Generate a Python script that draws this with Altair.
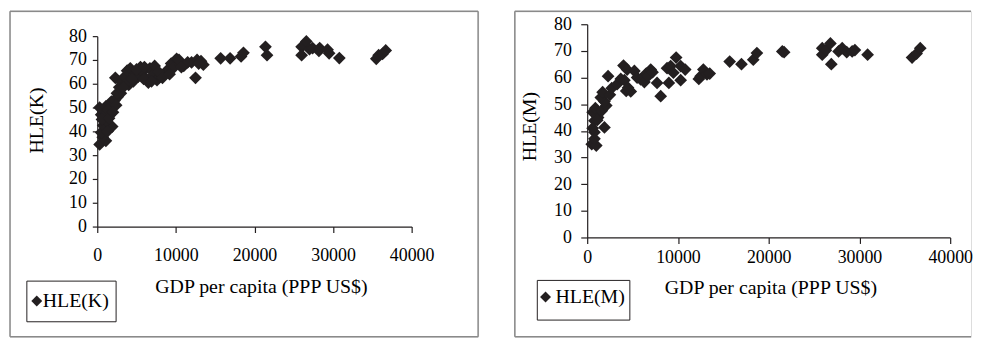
import altair as alt
import pandas as pd

FONT = "Liberation Serif"
INK = "#231f20"

# ---- Left panel data: HLE(K) vs GDP per capita ----
gdp_k = [300, 1100, 700, 500, 750, 1900, 1200, 500, 900, 300, 1100, 1600, 1800, 2200,
         2600, 3000, 1400, 2400, 600, 1500, 2000, 2500, 1300,
         2300, 2800, 3100, 3500, 3800, 4200, 4600, 4800, 5200, 5500, 5800, 6200, 6500,
         6700, 7000, 7300, 7600, 8000, 8600, 9000, 9400, 9800, 10100, 10500, 11000,
         12000, 12500, 12700, 13200, 13500, 4000, 3600,
         3300, 4400, 5000, 5900, 6000, 6900, 7800, 8300, 9200, 10400, 11500, 12900, 10700,
         15700, 16900, 18300, 18600, 21400, 21600, 26000, 26000, 26600, 27000, 27400,
         28200, 28300, 29300, 29500, 30800, 35500, 35800, 36300, 36700]
hle_k = [34.5, 36, 37.5, 39.5, 42.5, 42, 44.5, 47, 48.5, 50, 50.5, 51.5, 52.5, 53,
         54.5, 56, 49, 51, 45, 45.5, 48, 56, 40,
         62.5, 58.5, 60.5, 63, 65.5, 66.5, 61, 64, 63, 67, 65, 62, 60.5,
         66.5, 63.5, 67.5, 61.5, 63, 64.5, 66, 68.5, 67, 70.5, 68.5, 67.5,
         69, 62.5, 70, 69.5, 68, 59.5, 60,
         58.5, 62, 66, 62, 67, 61, 65, 62.5, 64, 70, 69, 68.5, 67,
         70.7, 70.7, 71.5, 73, 75.5, 72, 75.5, 72, 77.8, 74.5, 75,
         73.8, 75, 74.3, 72.8, 70.8, 70.5, 72, 72.5, 74]

# ---- Right panel data: HLE(M) vs GDP per capita ----
gdp_m = [500, 1000, 800, 800, 600, 1900, 800, 1200, 600, 900, 1600, 2100, 1900, 1500,
         1700, 2500, 2300, 2700, 1100,
         3300, 3700, 4000, 4400, 4100, 4300, 4800, 4500, 5200, 5500, 5900, 6300, 6500,
         6700, 7000, 7200, 7700, 8100, 8800, 9000, 9200, 9500, 9800, 10300, 10300,
         10800, 12300, 12500, 12800, 13200, 13500,
         15700, 17000, 18300, 18700, 21500, 21700, 25900, 25900, 26300, 26800, 26900,
         27700, 28100, 28600, 29200, 29500, 30900, 35800, 36300, 36700]
hle_m = [35, 34.5, 37, 39.5, 41, 41.3, 43.8, 45, 47, 48.5, 47.5, 49.5, 51, 52.5,
         54.5, 53.5, 60.5, 56, 44,
         57.5, 59.5, 64.5, 63, 59, 55, 54.8, 56.2, 62.5, 60, 59.3, 58.3, 61.5,
         60.5, 63, 62, 58, 53, 63.5, 58, 64.3, 61.8, 67.5, 64.3, 59,
         63, 59.5, 60.5, 63, 61.2, 61.5,
         66, 65, 66.7, 69.2, 69.8, 69.5, 71, 68.6, 70.2, 72.8, 65,
         69.8, 71, 69.5, 69.8, 70.3, 68.6, 67.5, 69, 71]

x_ticks = [0, 10000, 20000, 30000, 40000]
y_ticks = [0, 10, 20, 30, 40, 50, 60, 70, 80]

one = pd.DataFrame({"k": [0]})


def rule(x, x2, y, y2, color="#8a8a8a", width=1.5):
    return alt.Chart(one).mark_rule(color=color, strokeWidth=width).encode(
        x=alt.value(x), x2=alt.value(x2), y=alt.value(y), y2=alt.value(y2))


def axis_style():
    return dict(labelFont=FONT, labelFontSize=18, labelColor="black",
                titleFont=FONT, titleFontSize=20, titleFontWeight="normal",
                titleColor="black", domainColor=INK, domainWidth=1.2,
                tickColor=INK, tickWidth=1.2, grid=False,
                labelFlush=False, labelOverlap=False)


def panel(gdp, hle, name, W, H, xr, yr, xoff, yoff, xtick, ytick, xlp, ylp,
          xtx, xty, ytx, yty, lx, ly, loff, box, borders):
    df = pd.DataFrame({"gdp": gdp, "hle": hle, "series": name})
    pts = alt.Chart(df).mark_point(shape="diamond", filled=True, size=165,
                                   opacity=1, strokeWidth=0).encode(
        x=alt.X("gdp:Q",
                scale=alt.Scale(domain=[0, 40000], range=xr, nice=False),
                axis=alt.Axis(values=x_ticks, format="d", offset=xoff,
                              tickSize=xtick, labelPadding=xlp,
                              title="GDP per capita (PPP US$)", titleX=xtx, titleY=xty,
                              titleAlign="center", titleBaseline="alphabetic",
                              **axis_style())),
        y=alt.Y("hle:Q",
                scale=alt.Scale(domain=[0, 80], range=yr, nice=False),
                axis=alt.Axis(values=y_ticks, offset=yoff,
                              tickSize=ytick, labelPadding=ylp,
                              title=name, titleX=ytx, titleY=yty,
                              titleAngle=270, titleAlign="center",
                              titleBaseline="middle", **axis_style())),
        color=alt.Color("series:N", scale=alt.Scale(range=[INK]),
                        legend=alt.Legend(orient="none", legendX=lx, legendY=ly,
                                          title=None, symbolType="diamond",
                                          symbolSize=121, symbolStrokeWidth=0,
                                          labelFont=FONT, labelFontSize=20,
                                          labelColor="black",
                                          labelOffset={"expr": str(loff)},
                                          padding=0)),
    )
    bx = alt.Chart(one).mark_rect(fill="white", stroke=INK, strokeWidth=1).encode(
        x=alt.value(box[0]), x2=alt.value(box[1]), y=alt.value(box[2]), y2=alt.value(box[3]))
    layers = [rule(*b) for b in borders] + [bx, pts]
    return alt.layer(*layers).properties(width=W, height=H)


H = 328
left = panel(gdp_k, hle_k, "HLE(K)", 472, H,
             xr=[88, 405], yr=[217, 25], xoff=217 - H, yoff=-88,
             xtick=6, ytick=5, xlp=14, ylp=6,
             xtx=253, xty=66, ytx=-61, yty=109.5,
             lx=17, ly=282, loff=-4, box=[17, 107, 272, 313],
             borders=[(0, 0, 0, H), (0, 472, 0, 0), (472, 472, 0, H), (0, 472, H, H)])

right = panel(gdp_m, hle_m, "HLE(M)", 460, H,
              xr=[73, 439], yr=[228, 13], xoff=228 - H, yoff=-73,
              xtick=6, ytick=6.5, xlp=5, ylp=9.5,
              xtx=257.7, xty=56, ytx=-58.5, yty=115.7,
              lx=21, ly=278, loff=0, box=[22.7, 116, 271.3, 311.3],
              borders=[(0, 0, 0, H), (0, 460, 0, 0), (0, 460, H, H)])

chart = alt.hconcat(left, right, spacing=33).resolve_scale(
    color="independent").resolve_legend(color="independent").properties(
    padding=0).configure_view(stroke="transparent").configure(font=FONT)

chart.save("out.html", embed_options={"renderer": "svg", "actions": False})
